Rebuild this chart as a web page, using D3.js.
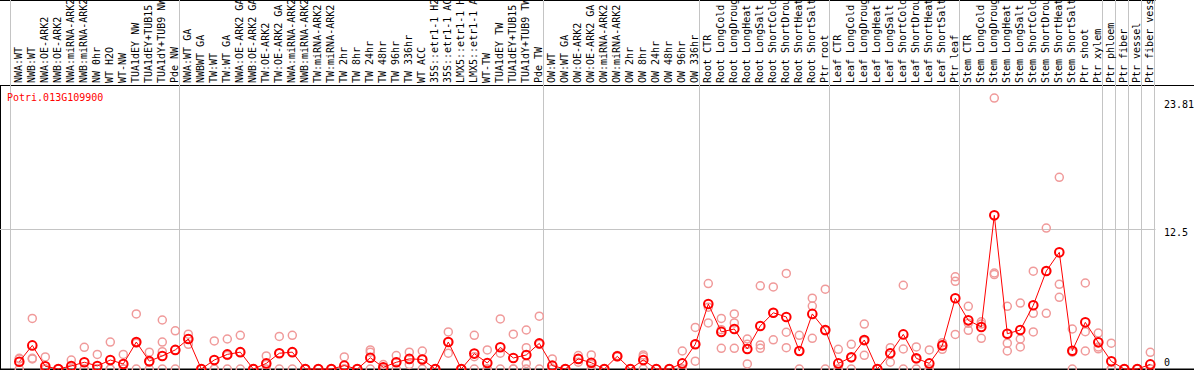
<!DOCTYPE html>
<html>
<head>
<meta charset="utf-8">
<script src="https://cdn.jsdelivr.net/npm/d3@7"></script>
<style>
  body { margin: 0; background: #fff; }
  text { font-family: "DejaVu Sans Mono", monospace; font-size: 10px; }
</style>
</head>
<body>
<div id="chart"></div>
<script>
const geneName = "Potri.013G109900";

const categories = [
  "NWA:WT", "NWB:WT", "NWA:OE-ARK2", "NWB:OE-ARK2", "NWA:miRNA-ARK2", "NWB:miRNA-ARK2",
  "NW 0hr", "WT H2O", "WT-NW", "TUA1dEY NW", "TUA1dEY+TUB15 NW", "TUA1dY+TUB9 NW", "Pde NW",
  "NWA:WT GA", "NWBWT GA", "TW:WT", "TW:WT GA", "NWA:OE-ARK2 GA", "NWB:OE-ARK2 GA",
  "TW:OE-ARK2", "TW:OE-ARK2 GA", "NWA:miRNA-ARK2", "NWB:miRNA-ARK2", "TW:miRNA-ARK2",
  "TW:miRNA-ARK2", "TW 2hr", "TW 8hr", "TW 24hr", "TW 48hr", "TW 96hr", "TW 336hr", "WT ACC",
  "35S::etr1-1 H2O", "35S::etr1-1 ACC", "LMX5::etr1-1 H2O", "LMX5::etr1-1 ACC", "WT-TW",
  "TUA1dEY TW", "TUA1dEY+TUB15 TW", "TUA1dY+TUB9 TW", "Pde TW",
  "OW:WT", "OW:WT GA", "OW:OE-ARK2", "OW:OE-ARK2 GA", "OW:miRNA-ARK2", "OW:miRNA-ARK2",
  "OW 2hr", "OW 8hr", "OW 24hr", "OW 48hr", "OW 96hr", "OW 336hr",
  "Root CTR", "Root LongCold", "Root LongDrought", "Root LongHeat", "Root LongSalt",
  "Root ShortCold", "Root ShortDrought", "Root ShortHeat", "Root ShortSalt", "Ptr root",
  "Leaf CTR", "Leaf LongCold", "Leaf LongDrought", "Leaf LongHeat", "Leaf LongSalt",
  "Leaf ShortCold", "Leaf ShortDrought", "Leaf ShortHeat", "Leaf ShortSalt", "Ptr leaf",
  "Stem CTR", "Stem LongCold", "Stem LongDrought", "Stem LongHeat", "Stem LongSalt",
  "Stem ShortCold", "Stem ShortDrought", "Stem ShortHeat", "Stem ShortSalt", "Ptr shoot", "Ptr xylem",
  "Ptr phloem", "Ptr fiber", "Ptr vessel", "Ptr fiber vessel"
];

// number of samples in each experiment block (separated by grey lines)
const groupSizes = [13, 28, 12, 10, 10, 11, 1, 1, 1, 1];

const means = [
  0.65, 2.1, 0.24, 0, 0.27, 0.6, 0.27, 0.8, 0.45, 2.4, 0.7, 1.16, 1.7,
  2.67, 0, 0.8, 1.3, 1.5, 0, 0.5, 1.4, 1.5, 0, 0, 0, 0.3, 0, 1.0, 0.15, 0.6, 0.9, 0.85,
  0, 2.4, 0, 1.37, 0.53, 1.93, 0.98, 1.25, 2.28,
  0.3, 0, 0.9, 0.56, 0, 1.13, 0, 0.8, 0, 0, 0.5, 2.2,
  5.78, 3.3, 3.56, 1.78, 3.83, 5.0, 4.63, 1.6, 4.9, 3.47,
  0.5, 1.04, 2.58, 0, 1.4, 3.08, 0.95, 0.5, 2.1, 6.3,
  4.33, 3.74, 13.67, 3.14, 3.47, 5.67, 8.72, 10.38, 1.63, 4.15, 2.37,
  0.68, 0, 0, 0.41
];

const replicates = [
  [0.95, 0.9, 0], [4.5, 0.95, 0.9], [1.07, 0, 0], [0, 0, 0], [0.8, 0, 0], [1.93, 0, 0],
  [1.3, 0, 0], [2.4, 0, 0], [1.3, 0, 0], [4.9, 2.3, 0], [1.5, 0.6, 0], [4.36, 2.4, 1.54, 0],
  [3.4, 1.7, 0],
  [3.1, 2.2, 2.7], [0, 0, 0], [2.5, 0, 0], [2.67, 1.2, 0], [3.0, 1.5, 0], [0, 0, 0],
  [1.16, 0.4, 0], [2.9, 1.4, 0], [3.0, 1.5, 0], [0, 0, 0], [0, 0, 0], [0, 0, 0],
  [1.07, 0, 0], [0, 0, 0], [1.7, 1.5, 0], [0.4, 0, 0], [1.2, 0.6, 0], [1.5, 0.9, 0.4],
  [1.6, 0.9, 0], [0, 0, 0], [3.3, 2.4, 1.4], [0, 0, 0], [3.0, 1.1, 0], [1.7, 0, 0],
  [4.45, 1.4, 0], [3.1, 0, 0], [3.47, 1.9, 0.5, 0], [4.7, 2.2, 0],
  [0.9, 0, 0], [0, 0, 0], [1.2, 0.9, 0.6], [1.25, 0.4, 0], [0, 0, 0], [1.2, 1.13, 1.1],
  [0, 0, 0], [1.25, 1.1, 0], [0, 0, 0], [0, 0, 0], [1.6, 0, 0], [3.7, 2.2, 0.7],
  [7.6, 5.5, 4.1], [4.5, 3.5, 1.84], [4.9, 4.1, 1.84], [2.67, 2.2, 0.45], [7.4, 2.14, 1.84],
  [7.3, 5.0, 2.6], [8.5, 3.27, 1.9], [3.0, 1.6, 0], [6.3, 5.6, 2.73], [7.1, 3.4, 0],
  [1.75, 0, 0], [2.2, 1.0, 0], [4.0, 2.5, 1.22], [0, 0, 0], [1.9, 1.4, 0.6],
  [7.45, 1.78, 0], [1.96, 0.9, 0], [1.7, 0, 0], [2.34, 2.1, 1.75], [8.2, 7.8, 3.08],
  [5.58, 4.06, 3.44], [4.2, 4.0, 2.73], [24.1, 8.54, 8.4], [5.58, 2.3, 1.6], [5.87, 2.67, 1.96],
  [8.7, 4.95, 3.3], [12.54, 8.7, 4.95], [17.05, 7.53, 6.38], [3.56, 1.5, 0], [7.65, 3.32, 1.6],
  [3.2, 1.96, 1.8],
  [2.3, 0, 0], [0, 0, 0], [0, 0, 0], [1.48, 0, 0]
];

const yTicks = [0, 12.5, 23.81];

const width = 1194;
const height = 370;
const plotTop = 85;
const plotRight = 1155.5;
const red = "#ff0000";
const pink = "#f09a9a";
const grey = "#c4c4c4";

const svg = d3.select("#chart")
  .append("svg")
  .attr("width", width)
  .attr("height", height);

const x = d3.scaleBand()
  .domain(d3.range(categories.length))
  .range([10.5, 10.5 + 13 * categories.length]);
const px = i => x(i) + 8.8;

const y = d3.scaleLinear()
  .domain([0, 25])
  .range([369, 88]);

// frame lines
svg.append("line").attr("x1", 0).attr("x2", plotRight).attr("y1", 0.5).attr("y2", 0.5)
  .attr("stroke", "#000");
svg.append("line").attr("x1", 0).attr("x2", width).attr("y1", plotTop + 0.5).attr("y2", plotTop + 0.5)
  .attr("stroke", "#000");
svg.append("line").attr("x1", 0.5).attr("x2", 0.5).attr("y1", plotTop).attr("y2", height)
  .attr("stroke", "#000");

// grid line at 12.5
svg.append("line")
  .attr("x1", 0).attr("x2", plotRight)
  .attr("y1", Math.round(y(12.5)) + 0.5).attr("y2", Math.round(y(12.5)) + 0.5)
  .attr("stroke", grey);

// block separators
const starts = [];
let acc = 0;
groupSizes.forEach(n => { starts.push(acc); acc += n; });
starts.push(acc);
svg.selectAll("line.sep")
  .data(starts)
  .enter()
  .append("line")
  .attr("class", "sep")
  .attr("x1", d => d < categories.length ? x(d) : x.range()[1])
  .attr("x2", d => d < categories.length ? x(d) : x.range()[1])
  .attr("y1", 0)
  .attr("y2", 369)
  .attr("stroke", grey);

// bottom axis line
svg.append("line").attr("x1", 0).attr("x2", width).attr("y1", 369.5).attr("y2", 369.5)
  .attr("stroke", "#000").attr("stroke-width", 2);

// vertical sample labels
svg.selectAll("text.cat")
  .data(categories)
  .enter()
  .append("text")
  .attr("class", "cat")
  .attr("transform", (d, i) => `translate(${px(i) + 3},83) rotate(-90)`)
  .attr("fill", "#000")
  .text(d => d);

// gene name
svg.append("text")
  .attr("x", 7)
  .attr("y", 101)
  .attr("fill", red)
  .text(geneName);

// right tick labels
svg.selectAll("text.tick")
  .data(yTicks)
  .enter()
  .append("text")
  .attr("class", "tick")
  .attr("x", 1164)
  .attr("y", d => Math.min(y(d) + 7, 365.5))
  .attr("fill", "#000")
  .text(d => d);

// replicate points
const repPoints = [];
replicates.forEach((r, i) => r.forEach(v => repPoints.push([i, v])));
svg.selectAll("circle.rep")
  .data(repPoints)
  .enter()
  .append("circle")
  .attr("class", "rep")
  .attr("cx", d => px(d[0]))
  .attr("cy", d => y(d[1]))
  .attr("r", 4)
  .attr("fill", "none")
  .attr("stroke", pink)
  .attr("stroke-width", 1.5);

// mean line
const line = d3.line()
  .x((d, i) => px(i))
  .y(d => y(d));
svg.append("path")
  .datum(means)
  .attr("d", line)
  .attr("fill", "none")
  .attr("stroke", red)
  .attr("stroke-width", 1);

svg.selectAll("circle.mean")
  .data(means)
  .enter()
  .append("circle")
  .attr("class", "mean")
  .attr("cx", (d, i) => px(i))
  .attr("cy", d => y(d))
  .attr("r", 4.3)
  .attr("fill", "none")
  .attr("stroke", red)
  .attr("stroke-width", 2);
</script>
</body>
</html>
